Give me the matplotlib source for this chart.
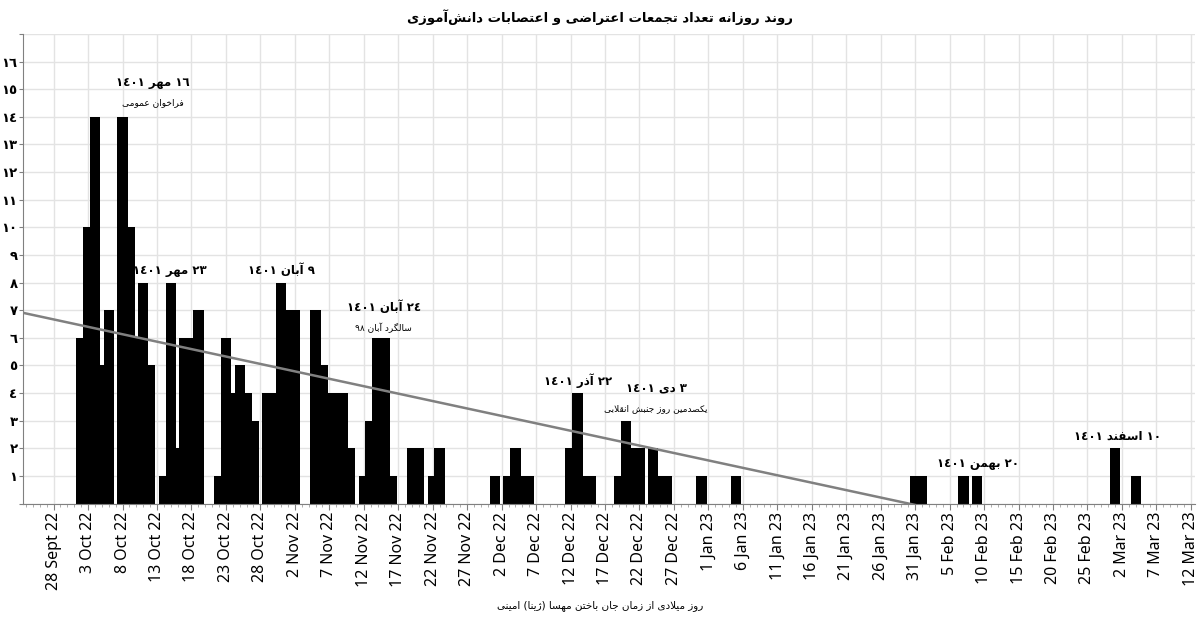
import re
import numpy as np
import pandas as pd
import matplotlib
matplotlib.use("Agg")
import matplotlib.pyplot as plt
import matplotlib.dates as mdates
from matplotlib.ticker import FixedLocator, MultipleLocator

# -----------------------
# Data (daily count of student protests / strikes)
# -----------------------
dates = [
    "2022-10-02", "2022-10-03", "2022-10-04", "2022-10-05", "2022-10-06",
    "2022-10-08", "2022-10-09", "2022-10-10", "2022-10-11", "2022-10-12",
    "2022-10-14", "2022-10-15", "2022-10-16", "2022-10-17", "2022-10-18", "2022-10-19",
    "2022-10-22", "2022-10-23", "2022-10-24", "2022-10-25", "2022-10-26", "2022-10-27",
    "2022-10-29", "2022-10-30", "2022-10-31", "2022-11-01", "2022-11-02",
    "2022-11-05", "2022-11-06", "2022-11-07", "2022-11-08", "2022-11-09", "2022-11-10",
    "2022-11-12", "2022-11-13", "2022-11-14", "2022-11-15", "2022-11-16",
    "2022-11-19", "2022-11-20", "2022-11-22", "2022-11-23",
    "2022-12-01", "2022-12-03", "2022-12-04", "2022-12-05", "2022-12-06",
    "2022-12-12", "2022-12-13", "2022-12-14", "2022-12-15",
    "2022-12-19", "2022-12-20", "2022-12-21", "2022-12-22",
    "2022-12-24", "2022-12-25", "2022-12-26", "2022-12-31",
    "2023-01-05", "2023-01-31", "2023-02-01", "2023-02-07", "2023-02-09",
    "2023-03-01", "2023-03-04",
]
counts = [
    6, 10, 14, 5, 7,
    14, 10, 6, 8, 5,
    1, 8, 2, 6, 6, 7,
    1, 6, 4, 5, 4, 3,
    4, 4, 8, 7, 7,
    7, 5, 4, 4, 4, 2,
    1, 3, 6, 6, 1,
    2, 2, 1, 2,
    1, 1, 2, 1, 1,
    2, 4, 1, 1,
    1, 3, 2, 2,
    2, 1, 1, 1,
    1, 1, 1, 1, 1,
    2, 1,
]

tick_start = "2022-09-28"
tick_end = "2023-03-12"

title = "روند روزانه تعداد تجمعات اعتراضی و اعتصابات دانش\u200cآموزی"
x_label = "روز میلادی از زمان جان باختن مهسا (ژینا) امینی"

# headline, note, (days after 28 Sept, y) for the text block
events = [
    ("١٦ مهر ١٤٠١", "فراخوان عمومی", 14.4, 15.25),
    ("٢٣ مهر ١٤٠١", None, 16.9, 8.45),
    ("٩ آبان ١٤٠١", None, 33.0, 8.45),
    ("٢٤ آبان ١٤٠١", "سالگرد آبان ٩٨", 47.9, 7.1),
    ("٢٢ آذر ١٤٠١", None, 76.1, 4.45),
    ("٣ دی ١٤٠١", "یکصدمین روز جنبش انقلابی", 87.4, 4.2),
    ("٢٠ بهمن ١٤٠١", None, 134.1, 1.45),
    ("١٠ اسفند ١٤٠١", None, 154.3, 2.45),
]

# -----------------------
# Minimal Arabic/Persian shaping (matplotlib has no RTL layout)
# -----------------------
FORMS = {  # isolated, final, initial, medial
    "\u0627": ("\uFE8D", "\uFE8E"),
    "\u0622": ("\uFE81", "\uFE82"),
    "\u0628": ("\uFE8F", "\uFE90", "\uFE91", "\uFE92"),
    "\u067E": ("\uFB56", "\uFB57", "\uFB58", "\uFB59"),
    "\u062A": ("\uFE95", "\uFE96", "\uFE97", "\uFE98"),
    "\u062C": ("\uFE9D", "\uFE9E", "\uFE9F", "\uFEA0"),
    "\u062E": ("\uFEA5", "\uFEA6", "\uFEA7", "\uFEA8"),
    "\u062F": ("\uFEA9", "\uFEAA"),
    "\u0630": ("\uFEAB", "\uFEAC"),
    "\u0631": ("\uFEAD", "\uFEAE"),
    "\u0632": ("\uFEAF", "\uFEB0"),
    "\u0698": ("\uFB8A", "\uFB8B"),
    "\u0633": ("\uFEB1", "\uFEB2", "\uFEB3", "\uFEB4"),
    "\u0634": ("\uFEB5", "\uFEB6", "\uFEB7", "\uFEB8"),
    "\u0635": ("\uFEB9", "\uFEBA", "\uFEBB", "\uFEBC"),
    "\u0636": ("\uFEBD", "\uFEBE", "\uFEBF", "\uFEC0"),
    "\u0639": ("\uFEC9", "\uFECA", "\uFECB", "\uFECC"),
    "\u0641": ("\uFED1", "\uFED2", "\uFED3", "\uFED4"),
    "\u0642": ("\uFED5", "\uFED6", "\uFED7", "\uFED8"),
    "\u06A9": ("\uFB8E", "\uFB8F", "\uFB90", "\uFB91"),
    "\u06AF": ("\uFB92", "\uFB93", "\uFB94", "\uFB95"),
    "\u0644": ("\uFEDD", "\uFEDE", "\uFEDF", "\uFEE0"),
    "\u0645": ("\uFEE1", "\uFEE2", "\uFEE3", "\uFEE4"),
    "\u0646": ("\uFEE5", "\uFEE6", "\uFEE7", "\uFEE8"),
    "\u0647": ("\uFEE9", "\uFEEA", "\uFEEB", "\uFEEC"),
    "\u0648": ("\uFEED", "\uFEEE"),
    "\u06CC": ("\uFBFC", "\uFBFD", "\uFBFE", "\uFBFF"),
}
LAM_ALEF = {"\u0627": ("\uFEFB", "\uFEFC"), "\u0622": ("\uFEF5", "\uFEF6")}
MIRROR = {"(": ")", ")": "("}


def joins_left(c):
    return c in FORMS and len(FORMS[c]) == 4


def shape(text):
    out, prev, i = [], None, 0
    while i < len(text):
        c = text[i]
        if c not in FORMS:
            if c != "\u200c":
                out.append(c)
            prev, i = None, i + 1
            continue
        jp = prev is not None and joins_left(prev)
        nxt = text[i + 1] if i + 1 < len(text) else None
        if c == "\u0644" and nxt in LAM_ALEF:
            iso, fin = LAM_ALEF[nxt]
            out.append(fin if jp else iso)
            prev, i = nxt, i + 2
            continue
        jn = joins_left(c) and nxt in FORMS
        f = FORMS[c]
        out.append(f[3] if jp and jn else f[1] if jp else f[2] if jn else f[0])
        prev, i = c, i + 1
    return "".join(out)


def rtl(text):
    tokens = re.findall(r"[0-9\u0660-\u0669\u06F0-\u06F9]+|.", shape(text))
    return "".join(MIRROR.get(t, t) for t in reversed(tokens))


def to_ar_digits(n):
    return str(n).translate(str.maketrans("0123456789", "٠١٢٣٤٥٦٧٨٩"))


# -----------------------
# Plot
# -----------------------
AR = ["DejaVu Sans"]
x = mdates.date2num(pd.to_datetime(dates))
y = np.array(counts)
origin = mdates.date2num(pd.Timestamp(tick_start))

fig = plt.figure(figsize=(12, 6.24), dpi=100)
ax = fig.add_axes([23 / 1200, 1 - 503.5 / 624, (1195 - 23) / 1200, (503.5 - 34) / 624])

ax.bar(x, y, width=1.5, color="black", linewidth=0, zorder=2)

# linear trend over the days with events
slope, intercept = np.polyfit(x, y, 1)
x0, x1 = origin - 4.44, origin + 165.6
tx = np.array([x0, x1])
ax.plot(tx, slope * tx + intercept, color="#808080", lw=1.8, zorder=3)

ax.set_xlim(x0, x1)
ax.set_ylim(0, 17)

tick_dates = pd.date_range(tick_start, tick_end, freq="5D")
tick_labels = [f"{d.day} {'Sept' if d.month == 9 else d.strftime('%b')} {d:%y}" for d in tick_dates]
ax.xaxis.set_major_locator(FixedLocator(mdates.date2num(tick_dates)))
ax.set_xticklabels(tick_labels, rotation=90, fontsize=11.5, family="Noto Sans")
ax.xaxis.set_minor_locator(MultipleLocator(1))

ax.set_yticks(range(0, 18))
ax.set_yticklabels([""] + [to_ar_digits(i) for i in range(1, 17)] + [""],
                   fontsize=9.5, fontweight="bold", family=AR)

ax.grid(True, color="#e3e3e3", lw=1, zorder=0)
ax.set_axisbelow(True)
for side in ["top", "right"]:
    ax.spines[side].set_visible(False)
for side in ["left", "bottom"]:
    ax.spines[side].set_color("#808080")
ax.tick_params(axis="x", which="major", length=4, color="#808080", pad=2)
ax.tick_params(axis="y", which="major", length=3, color="#808080", pad=1)
ax.tick_params(axis="x", which="minor", length=2, color="#a0a0a0")

for head, note, day, ypos in events:
    ax.text(origin + day, ypos, rtl(head), ha="center", va="center",
            fontsize=8.5, fontweight="bold", family=AR, zorder=4)
    if note:
        ax.text(origin + day, ypos - 0.75, rtl(note), ha="center", va="center",
                fontsize=6.5, family=AR, zorder=4)

fig.text(0.5, 1 - 17 / 624, rtl(title), ha="center", va="center",
         fontsize=9.5, fontweight="bold", family=AR)
fig.text(0.5, 1 - 606 / 624, rtl(x_label), ha="center", va="center",
         fontsize=7.5, family=AR)

fig.savefig("out.png", dpi=100)
